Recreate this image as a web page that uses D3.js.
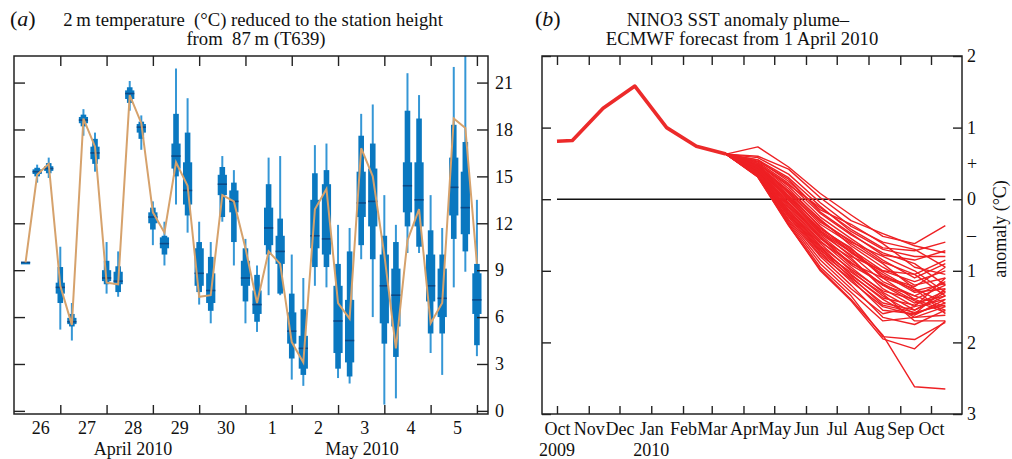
<!DOCTYPE html>
<html lang="en">
<head>
<meta charset="UTF-8">
<script src="https://d3js.org/d3.v7.min.js"></script>
<style>
  html, body { margin: 0; padding: 0; background: #fff; }
  svg text { font-family: "Liberation Serif", "Times New Roman", serif; fill: #111; }
  .tick line { stroke: #222; stroke-width: 1.4; }
</style>
</head>
<body>
<svg id="chart" width="1012" height="459"></svg>
<script>
// ---------- panel (a): 2 m temperature ensemble, 6-hourly from 25 Apr 2010 06 UTC ----------
// each entry: [min, p10, p25, median, p75, p90, max]
const boxStats = [
  [9.5, 9.5, 9.5, 9.5, 9.5, 9.5, 9.5],
  [14.6, 15.0, 15.15, 15.3, 15.45, 15.55, 15.75],
  [14.9, 15.2, 15.35, 15.5, 15.65, 15.85, 16.2],
  [5.2, 6.9, 7.5, 7.9, 8.2, 9.2, 10.5],
  [4.5, 5.4, 5.55, 5.7, 5.95, 6.2, 6.9],
  [17.6, 18.2, 18.4, 18.6, 18.8, 18.95, 19.3],
  [15.3, 15.8, 16.1, 16.5, 16.9, 17.4, 17.8],
  [7.5, 8.1, 8.3, 8.5, 9.0, 9.6, 10.8],
  [7.3, 7.6, 8.1, 8.3, 8.9, 9.25, 10.2],
  [19.2, 19.7, 19.95, 20.3, 20.5, 20.7, 21.1],
  [16.7, 17.4, 17.8, 18.15, 18.35, 18.5, 18.9],
  [10.6, 11.6, 12.0, 12.4, 12.7, 13.0, 13.4],
  [9.3, 10.0, 10.4, 10.7, 11.1, 11.2, 12.1],
  [13.2, 15.0, 15.5, 16.3, 17.1, 19.0, 21.9],
  [11.4, 12.5, 13.2, 14.1, 15.9, 17.8, 20.0],
  [6.8, 7.6, 8.0, 8.8, 10.4, 10.8, 12.1],
  [5.6, 6.4, 6.9, 7.7, 8.8, 9.85, 10.8],
  [12.1, 12.4, 13.8, 14.5, 15.1, 15.6, 16.3],
  [9.3, 10.8, 12.7, 13.4, 14.1, 14.6, 15.4],
  [5.6, 7.0, 8.0, 8.5, 9.6, 10.4, 11.0],
  [5.05, 5.7, 6.2, 6.8, 7.7, 8.7, 9.3],
  [7.4, 10.0, 10.6, 11.7, 13.0, 14.5, 16.2],
  [7.4, 7.5, 9.4, 10.2, 11.2, 12.3, 16.3],
  [2.0, 3.35, 4.3, 5.1, 6.3, 7.5, 10.0],
  [1.6, 2.3, 2.7, 4.0, 4.8, 6.5, 8.5],
  [8.0, 9.2, 10.4, 11.2, 13.5, 15.2, 17.0],
  [7.9, 9.2, 10.0, 11.0, 14.5, 15.4, 17.1],
  [2.1, 2.7, 3.7, 5.75, 8.0, 9.4, 11.9],
  [1.75, 2.2, 3.1, 4.5, 7.1, 10.2, 11.7],
  [9.7, 10.6, 12.4, 13.3, 15.3, 17.6, 19.0],
  [6.0, 9.7, 11.8, 13.4, 15.5, 17.1, 19.6],
  [0.4, 4.3, 5.6, 8.0, 10.0, 11.2, 13.8],
  [0.8, 3.45, 5.4, 7.4, 9.1, 10.8, 11.9],
  [10.1, 11.8, 12.7, 14.4, 15.9, 19.2, 21.6],
  [10.1, 10.5, 11.8, 13.5, 15.9, 18.7, 20.2],
  [3.7, 4.95, 7.0, 8.0, 10.0, 11.55, 13.8],
  [2.3, 4.95, 6.0, 7.2, 9.1, 10.0, 11.7],
  [7.9, 11.0, 12.5, 14.3, 16.2, 18.3, 22.0],
  [8.9, 10.2, 11.3, 13.0, 15.3, 17.2, 23.5],
  [3.5, 4.2, 6.2, 7.1, 8.8, 9.4, 13.5]
];
const controlTemps = [9.5, 15.1, 15.8, 8.0, 5.5, 18.7, 16.9, 8.2, 8.1, 20.2,
  18.4, 12.7, 11.4, 15.9, 14.4, 7.3, 7.4, 13.8, 13.4, 10.4,
  6.9, 10.2, 9.4, 4.4, 3.1, 12.9, 14.2, 6.9, 5.9, 16.8,
  15.0, 10.0, 4.0, 10.9, 12.9, 5.6, 6.9, 18.7, 18.1, 9.4];
const firstBoxTime = Date.UTC(2010, 3, 25, 6);
const stepHours = 6;
const tempTicks = [0, 3, 6, 9, 12, 15, 18, 21];
const dayTicks = ["2010-04-26", "2010-04-27", "2010-04-28", "2010-04-29", "2010-04-30",
  "2010-05-01", "2010-05-02", "2010-05-03", "2010-05-04", "2010-05-05"];

// ---------- panel (b): NINO3 SST anomaly plume ----------
const obsDates = ["2009-10-01", "2009-10-16", "2009-11-15", "2009-12-16", "2010-01-16", "2010-02-14", "2010-03-15"];
const obsAnom = [0.81, 0.82, 1.27, 1.58, 1.00, 0.74, 0.63];
const fcDates = ["2010-03-15", "2010-04-15", "2010-05-15", "2010-06-15", "2010-07-15", "2010-08-15", "2010-09-15", "2010-10-15"];
const fcStart = 0.63;
// members: Apr, May, Jun, Jul, Aug, Sep, Oct
const members = [
  [0.73, 0.45, 0.08, -0.22, -0.52, -0.62, -0.37],
  [0.60, 0.42, 0.02, -0.30, -0.48, -0.65, -0.75],
  [0.58, 0.35, -0.05, -0.38, -0.60, -0.70, -0.95],
  [0.55, 0.30, -0.10, -0.45, -0.70, -0.80, -0.80],
  [0.55, 0.25, -0.15, -0.35, -0.62, -0.95, -1.05],
  [0.52, 0.22, -0.20, -0.50, -0.75, -0.90, -1.20],
  [0.50, 0.18, -0.25, -0.55, -0.85, -1.10, -0.90],
  [0.50, 0.15, -0.30, -0.60, -0.80, -1.00, -1.30],
  [0.48, 0.12, -0.28, -0.65, -0.95, -1.20, -1.10],
  [0.48, 0.10, -0.35, -0.62, -0.90, -1.25, -1.45],
  [0.46, 0.08, -0.40, -0.70, -1.00, -1.15, -1.00],
  [0.46, 0.05, -0.38, -0.75, -1.05, -1.30, -1.25],
  [0.45, 0.02, -0.42, -0.68, -1.10, -1.40, -1.55],
  [0.44, 0.00, -0.45, -0.80, -1.00, -1.05, -0.85],
  [0.44, -0.02, -0.48, -0.78, -1.15, -1.35, -1.15],
  [0.42, -0.05, -0.50, -0.85, -1.20, -1.45, -1.35],
  [0.42, -0.05, -0.52, -0.90, -1.10, -1.25, -1.60],
  [0.40, -0.08, -0.55, -0.82, -1.25, -1.50, -1.40],
  [0.40, -0.10, -0.58, -0.95, -1.30, -1.55, -1.30],
  [0.39, -0.12, -0.60, -0.88, -1.20, -1.35, -1.50],
  [0.38, -0.15, -0.62, -1.00, -1.35, -1.60, -1.45],
  [0.38, -0.15, -0.65, -0.98, -1.28, -1.40, -1.20],
  [0.36, -0.18, -0.68, -1.05, -1.40, -1.65, -1.62],
  [0.36, -0.20, -0.70, -1.10, -1.45, -1.55, -1.35],
  [0.35, -0.22, -0.72, -1.02, -1.32, -1.70, -1.70],
  [0.34, -0.24, -0.75, -1.15, -1.50, -1.62, -1.40],
  [0.34, -0.25, -0.78, -1.12, -1.55, -1.60, -1.25],
  [0.33, -0.28, -0.80, -1.20, -1.65, -1.75, -1.55],
  [0.33, -0.30, -0.85, -1.25, -1.60, -1.50, -1.10],
  [0.32, -0.32, -0.90, -1.30, -1.70, -1.65, -1.50],
  [0.32, -0.34, -0.95, -1.35, -1.92, -1.96, -1.72],
  [0.31, -0.36, -1.00, -1.42, -1.95, -2.09, -1.70],
  [0.31, -0.37, -0.98, -1.40, -1.90, -2.62, -2.65],
  [0.50, 0.20, -0.12, -0.42, -0.68, -0.72, -0.60],
  [0.53, 0.28, -0.18, -0.48, -0.78, -0.85, -0.72],
  [0.47, 0.10, -0.32, -0.58, -0.88, -1.05, -1.35],
  [0.43, 0.04, -0.44, -0.72, -1.08, -1.22, -0.95],
  [0.41, -0.06, -0.54, -0.92, -1.18, -1.42, -1.58],
  [0.37, -0.16, -0.66, -1.06, -1.38, -1.48, -1.28],
  [0.35, -0.20, -0.74, -1.08, -1.48, -1.58, -1.48],
  [0.45, 0.00, -0.46, -0.74, -1.02, -1.28, -1.18]
];
const anomTicks = [2, 1, 0.5, 0, -0.5, -1, -2, -3];
const anomLabels = ["2", "1", "+", "0", "\u2013", "1", "2", "3"];
const yearLabels = [["2009-10-01", "2009"], ["2010-01-01", "2010"]];

const svg = d3.select("#chart");
const parseDay = d3.utcParse("%Y-%m-%d");
const frameColor = "#222";

// ================= panel (a) =================
const a = { left: 14, right: 488, top: 56, bottom: 414 };
const xA = d3.scaleUtc()
  .domain([Date.UTC(2010, 3, 25, 0), Date.UTC(2010, 4, 5, 5, 45)])
  .range([a.left, a.right]);
const yA = d3.scaleLinear().domain([-0.2, 22.7]).range([a.bottom, a.top]);

svg.append("defs").append("clipPath").attr("id", "clipA")
  .append("rect").attr("x", a.left).attr("y", a.top)
  .attr("width", a.right - a.left).attr("height", a.bottom - a.top);

const boxData = boxStats.map((s, i) => ({ t: new Date(firstBoxTime + i * stepHours * 3600e3), s: s }));
const gBoxes = svg.append("g").attr("clip-path", "url(#clipA)");

gBoxes.selectAll("line.whisker").data(boxData).join("line")
  .attr("class", "whisker")
  .attr("x1", d => xA(d.t)).attr("x2", d => xA(d.t))
  .attr("y1", d => yA(d.s[0])).attr("y2", d => yA(d.s[6]))
  .attr("stroke", "#3597d6").attr("stroke-width", 2);

gBoxes.selectAll("rect.outer").data(boxData).join("rect")
  .attr("class", "outer")
  .attr("x", d => xA(d.t) - 2.8).attr("width", 5.6)
  .attr("y", d => yA(d.s[5])).attr("height", d => Math.max(1.5, yA(d.s[1]) - yA(d.s[5])))
  .attr("fill", "#0a78c0");

gBoxes.selectAll("rect.inner").data(boxData).join("rect")
  .attr("class", "inner")
  .attr("x", d => xA(d.t) - 4.6).attr("width", 9.2)
  .attr("y", d => yA(d.s[4])).attr("height", d => Math.max(2, yA(d.s[2]) - yA(d.s[4])))
  .attr("fill", "#0a78c0");

gBoxes.selectAll("line.median").data(boxData).join("line")
  .attr("class", "median")
  .attr("x1", d => xA(d.t) - 4.6).attr("x2", d => xA(d.t) + 4.6)
  .attr("y1", d => yA(d.s[3])).attr("y2", d => yA(d.s[3]))
  .attr("stroke", "#0b4a88").attr("stroke-width", 1.6);

const ctrl = controlTemps.map((v, i) => ({ t: new Date(firstBoxTime + i * stepHours * 3600e3), v: v }));
gBoxes.append("path").datum(ctrl)
  .attr("d", d3.line().x(d => xA(d.t)).y(d => yA(d.v)))
  .attr("fill", "none").attr("stroke", "#d6a26c").attr("stroke-width", 2);

// axes (ticks pointing inwards)
const days = dayTicks.map(parseDay);
svg.append("g").attr("transform", `translate(0,${a.top})`)
  .call(d3.axisTop(xA).tickValues(days).tickSize(-10).tickFormat(""))
  .call(g => g.select(".domain").remove());
const bottomA = svg.append("g").attr("transform", `translate(0,${a.bottom})`)
  .call(d3.axisBottom(xA).tickValues(days).tickSize(-9).tickPadding(7).tickFormat(d3.utcFormat("%-d")))
  .call(g => g.select(".domain").remove());
bottomA.selectAll("text").attr("x", -20).attr("font-size", 18).attr("font-family", null).attr("fill", "#111");

svg.append("g").attr("transform", `translate(${a.left},0)`)
  .call(d3.axisLeft(yA).tickValues(tempTicks).tickSize(-11).tickFormat(""))
  .call(g => g.select(".domain").remove());
const rightA = svg.append("g").attr("transform", `translate(${a.right},0)`)
  .call(d3.axisRight(yA).tickValues(tempTicks).tickSize(-11).tickPadding(7))
  .call(g => g.select(".domain").remove());
rightA.selectAll("text").attr("font-size", 18).attr("font-family", null).attr("fill", "#111").attr("x", 7);

svg.append("rect").attr("x", a.left).attr("y", a.top)
  .attr("width", a.right - a.left).attr("height", a.bottom - a.top)
  .attr("fill", "none").attr("stroke", frameColor).attr("stroke-width", 1.5);

svg.append("text").attr("x", 133).attr("y", 455).attr("text-anchor", "middle").attr("font-size", 18).text("April 2010");
svg.append("text").attr("x", 362).attr("y", 455).attr("text-anchor", "middle").attr("font-size", 18).text("May 2010");

svg.append("text").attr("x", 10).attr("y", 26).attr("font-size", 22)
  .html('(<tspan font-style="italic">a</tspan>)');
svg.append("text").attr("x", 253).attr("y", 26).attr("text-anchor", "middle").attr("font-size", 18.7)
  .text("2\u2009m temperature \u00a0(\u00b0C) reduced to the station height");
svg.append("text").attr("x", 256).attr("y", 45).attr("text-anchor", "middle").attr("font-size", 18.7)
  .text("from \u00a087\u2009m (T639)");

// ================= panel (b) =================
const b = { left: 542, right: 962, top: 56, bottom: 414 };
const xB = d3.scaleUtc()
  .domain([Date.UTC(2009, 8, 16, 9), Date.UTC(2010, 9, 31, 6)])
  .range([b.left, b.right]);
const yB = d3.scaleLinear().domain([-3, 2]).range([b.bottom, b.top]);

const months = d3.utcMonth.range(Date.UTC(2009, 9, 1), Date.UTC(2010, 9, 2));

// zero line
svg.append("line")
  .attr("x1", xB(parseDay("2009-10-01"))).attr("x2", xB(parseDay("2010-10-15")))
  .attr("y1", yB(0)).attr("y2", yB(0))
  .attr("stroke", "#111").attr("stroke-width", 1.5);

const fcT = fcDates.map(parseDay);
const lineB = d3.line().x(d => xB(d[0])).y(d => yB(d[1]));
svg.append("g").selectAll("path").data(members).join("path")
  .attr("d", m => lineB([[fcT[0], fcStart]].concat(m.map((v, i) => [fcT[i + 1], v]))))
  .attr("fill", "none").attr("stroke", "#ee2024").attr("stroke-width", 1.4)
  .attr("stroke-linejoin", "round");

svg.append("path")
  .datum(obsDates.map((d, i) => [parseDay(d), obsAnom[i]]))
  .attr("d", lineB)
  .attr("fill", "none").attr("stroke", "#ec2a2a").attr("stroke-width", 3.6)
  .attr("stroke-linejoin", "round");

svg.append("g").attr("transform", `translate(0,${b.top})`)
  .call(d3.axisTop(xB).tickValues(months).tickSize(-9).tickFormat(""))
  .call(g => g.select(".domain").remove());
const bottomB = svg.append("g").attr("transform", `translate(0,${b.bottom})`)
  .call(d3.axisBottom(xB).tickValues(months).tickSize(-8).tickPadding(8).tickFormat(d3.utcFormat("%b")))
  .call(g => g.select(".domain").remove());
bottomB.selectAll("text").attr("font-size", 18).attr("font-family", null).attr("fill", "#111");

const tickOnly = anomTicks.filter(v => Math.abs(v % 1) < 1e-9);
svg.append("g").attr("transform", `translate(${b.left},0)`)
  .call(d3.axisLeft(yB).tickValues(tickOnly).tickSize(-9).tickFormat(""))
  .call(g => g.select(".domain").remove());
svg.append("g").attr("transform", `translate(${b.right},0)`)
  .call(d3.axisRight(yB).tickValues(tickOnly).tickSize(-9).tickFormat(""))
  .call(g => g.select(".domain").remove());
const rightB = svg.append("g").attr("transform", `translate(${b.right},0)`)
  .call(d3.axisRight(yB).tickValues(anomTicks).tickSize(0).tickPadding(5)
    .tickFormat(v => anomLabels[anomTicks.indexOf(v)]))
  .call(g => g.select(".domain").remove());
rightB.selectAll("text").attr("font-size", 18).attr("font-family", null).attr("fill", "#111");

svg.append("rect").attr("x", b.left).attr("y", b.top)
  .attr("width", b.right - b.left).attr("height", b.bottom - b.top)
  .attr("fill", "none").attr("stroke", frameColor).attr("stroke-width", 1.5);

svg.selectAll("text.year").data(yearLabels).join("text")
  .attr("class", "year")
  .attr("x", d => xB(parseDay(d[0]))).attr("y", 456)
  .attr("text-anchor", "middle").attr("font-size", 18)
  .text(d => d[1]);

svg.append("text").attr("transform", "translate(1006,229) rotate(-90)")
  .attr("text-anchor", "middle").attr("font-size", 18).text("anomaly (\u00b0C)");

svg.append("text").attr("x", 535).attr("y", 26).attr("font-size", 22)
  .html('(<tspan font-style="italic">b</tspan>)');
svg.append("text").attr("x", 738).attr("y", 26).attr("text-anchor", "middle").attr("font-size", 18.7)
  .text("NINO3 SST anomaly plume\u2013");
svg.append("text").attr("x", 742).attr("y", 45).attr("text-anchor", "middle").attr("font-size", 18.7)
  .text("ECMWF forecast from 1 April 2010");
</script>
</body>
</html>
